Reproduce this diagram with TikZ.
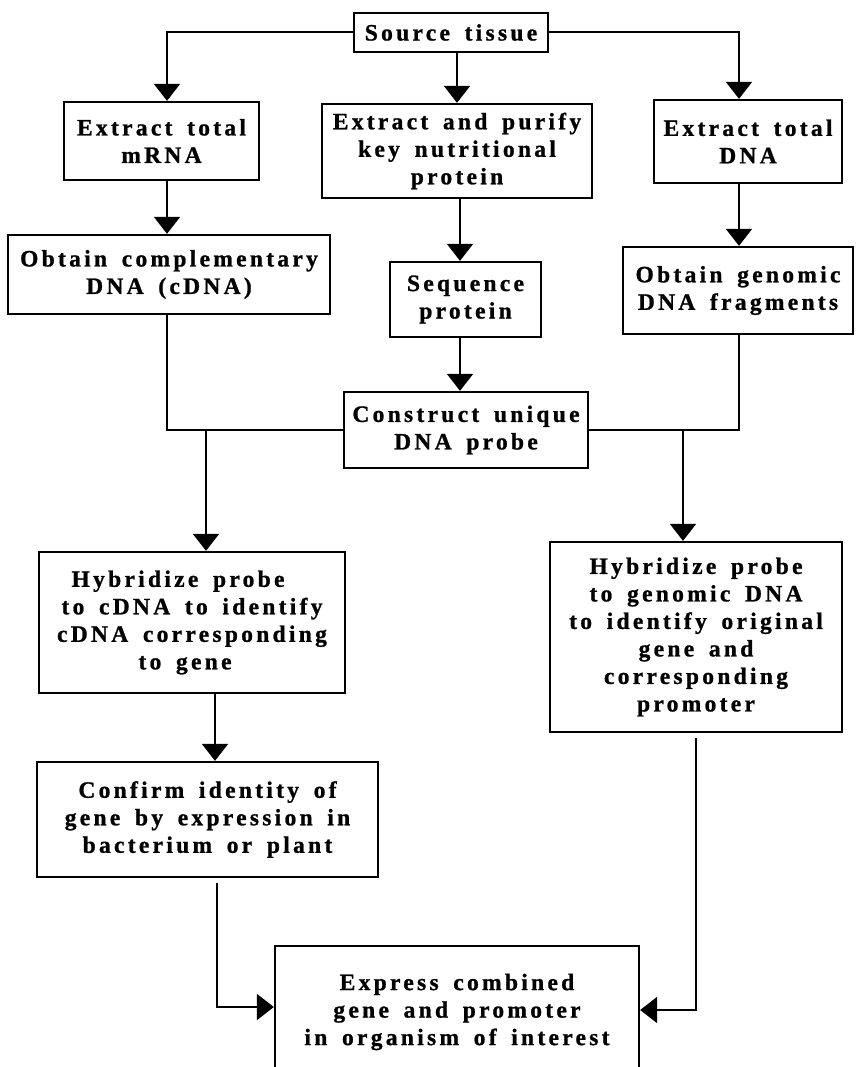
\documentclass[tikz,border=0pt]{standalone}
\usepackage{fontspec}
\newfontfamily\boxfont{Liberation Serif}[LetterSpace=14, WordSpace=1.6, BoldFeatures={FakeBold=1}]
\usetikzlibrary{arrows.meta}
\begin{document}
\begin{tikzpicture}[x=1pt,y=-1pt,
  box/.style={draw, line width=2.3pt, align=center, inner sep=0pt,
    font=\boxfont\bfseries\fontsize{23.5}{27.5}\selectfont},
  link/.style={line width=2pt},
  arr/.style={link, -{Triangle[length=17pt,width=26pt]}}]
\useasboundingbox (0,0) rectangle (855,1067);
% boxes
\node[box, minimum width=194pt, minimum height=39pt] (src) at (451,32.5) {Source tissue};
\node[box, minimum width=195pt, minimum height=78pt] (mrna) at (161.5,141) {Extract total\\mRNA};
\node[box, minimum width=270pt, minimum height=94pt] (purify) at (457,151) {Extract and purify\\key nutritional\\protein};
\node[box, minimum width=188pt, minimum height=83pt] (dna) at (748,141.5) {Extract total\\DNA};
\node[box, minimum width=322pt, minimum height=79pt] (cdna) at (169,274.5) {Obtain complementary\\DNA (cDNA)};
\node[box, minimum width=151pt, minimum height=75pt] (seq) at (465.5,299.5) {Sequence\\protein};
\node[box, minimum width=230pt, minimum height=87pt] (genomic) at (738,290.5) {Obtain genomic\\DNA fragments};
\node[box, minimum width=244pt, minimum height=76pt] (probe) at (466,430) {Construct unique\\DNA probe};
\node[box, minimum width=306pt, minimum height=141pt] (hybL) at (192,622.5) {Hybridize probe\hspace*{28pt}\\to cDNA to identify\\cDNA corresponding\\to gene\hspace*{14pt}};
\node[box, minimum width=292pt, minimum height=190pt] (hybR) at (696,637) {Hybridize probe\\to genomic DNA\\to identify original\\gene and\hspace*{26pt}\\corresponding\\promoter};
\node[box, minimum width=341pt, minimum height=115pt] (confirm) at (207.5,819.5) {Confirm identity of\\gene by expression in\\bacterium or plant};
\node[box, minimum width=364pt, minimum height=132pt] (express) at (457,1012) {Express combined\\gene and promoter\\in organism of interest};
% helper coordinates
\coordinate (cL) at (167,0);
\coordinate (cR) at (739,0);
\coordinate (cM) at (460,0);
\coordinate (cC) at (215,0);
\coordinate (tL) at (206,0);
\coordinate (tR) at (683,0);
\coordinate (bL) at (217,1007);
\coordinate (bR) at (696,1010);
% connectors
\draw[arr] (src.west) -| (mrna.north -| cL);
\draw[arr] (src.south -| purify.north) -- (purify.north);
\draw[arr] (src.east) -| (dna.north -| cR);
\draw[arr] (mrna.south -| cL) -- (cdna.north -| cL);
\draw[arr] (purify.south -| cM) -- (seq.north -| cM);
\draw[arr] (dna.south -| cR) -- (genomic.north -| cR);
\draw[arr] (seq.south -| cM) -- (probe.north -| cM);
\draw[link] (cdna.south -| cL) |- (probe.west);
\draw[link] (genomic.south -| cR) |- (probe.east);
\draw[arr] (probe.west -| tL) -- (hybL.north -| tL);
\draw[arr] (probe.east -| tR) -- (hybR.north -| tR);
\draw[arr] (hybL.south -| cC) -- (confirm.north -| cC);
\draw[arr, shorten <=5pt] (confirm.south -| bL) |- (express.west |- bL);
\draw[arr, shorten <=5pt] (hybR.south -| bR) |- (express.east |- bR);
\end{tikzpicture}
\end{document}
